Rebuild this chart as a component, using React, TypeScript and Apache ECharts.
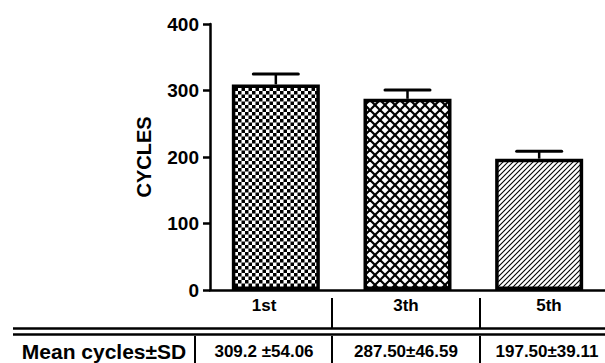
import React, { useEffect, useRef } from "react";
import * as echarts from "echarts";

const categories = ["1st", "3th", "5th"];
const meanCycles = [309.2, 287.5, 197.5];
const errorValues = [15.6, 13.4, 11.3];
const meanSdLabels = ["309.2 ±54.06", "287.50±46.59", "197.50±39.11"];
const rowTitle = "Mean cycles±SD";
const yAxisName = "CYCLES";
const yMin = 0;
const yMax = 400;
const yInterval = 100;

const FONT = "'Liberation Sans', Arial, sans-serif";

function makeTile(size: number, draw: (ctx: CanvasRenderingContext2D) => void) {
  const c = document.createElement("canvas");
  c.width = size;
  c.height = size;
  const ctx = c.getContext("2d")!;
  ctx.fillStyle = "#fff";
  ctx.fillRect(0, 0, size, size);
  draw(ctx);
  return { image: c.toDataURL(), repeat: "repeat", imageWidth: size, imageHeight: size } as any;
}

function patterns() {
  const checker = makeTile(7, (ctx) => {
    ctx.fillStyle = "#000";
    ctx.fillRect(0, 0, 3.5, 3.5);
    ctx.fillRect(3.5, 3.5, 3.5, 3.5);
  });
  const cross = makeTile(10, (ctx) => {
    ctx.strokeStyle = "#000";
    ctx.lineWidth = 2.2;
    for (let k = -1; k <= 1; k++) {
      ctx.beginPath();
      ctx.moveTo(-10, -10 + k * 10);
      ctx.lineTo(20, 20 + k * 10);
      ctx.stroke();
    }
    for (let k = 0; k <= 2; k++) {
      ctx.beginPath();
      ctx.moveTo(-10, 10 + k * 10);
      ctx.lineTo(20, -20 + k * 10);
      ctx.stroke();
    }
  });
  const hatch = makeTile(5, (ctx) => {
    ctx.strokeStyle = "#000";
    ctx.lineWidth = 1.1;
    for (let k = 0; k <= 2; k++) {
      ctx.beginPath();
      ctx.moveTo(-5, 5 + k * 5);
      ctx.lineTo(10, -10 + k * 5);
      ctx.stroke();
    }
  });
  return [checker, cross, hatch];
}

export default function App() {
  const ref = useRef<HTMLDivElement>(null);
  useEffect(() => {
    if (!ref.current) return;
    const chart = echarts.init(ref.current, null, { renderer: "svg" });
    const fills = patterns();

    const headerX = [264, 406, 549];
    const valueX = [264, 406, 547];
    const graphic: any[] = [];
    categories.forEach((c, i) => {
      graphic.push({
        type: "text",
        x: headerX[i],
        y: 305,
        z: 100,
        style: { text: c, font: `bold 17px ${FONT}`, fill: "#000", align: "center", verticalAlign: "middle" },
      });
      graphic.push({
        type: "text",
        x: valueX[i],
        y: 351,
        z: 100,
        style: { text: meanSdLabels[i], font: `bold 17px ${FONT}`, fill: "#000", align: "center", verticalAlign: "middle" },
      });
    });
    graphic.push({
      type: "text",
      x: 104,
      y: 351,
      z: 100,
      style: { text: rowTitle, font: `bold 21px ${FONT}`, fill: "#000", align: "center", verticalAlign: "middle" },
    });
    const lineStyle = { stroke: "#000", lineWidth: 2 };
    [332, 480].forEach((x) => {
      graphic.push({ type: "line", z: 100, shape: { x1: x, y1: 298, x2: x, y2: 328 }, style: lineStyle });
    });
    [195, 332, 480].forEach((x) => {
      graphic.push({ type: "line", z: 100, shape: { x1: x, y1: 336, x2: x, y2: 363 }, style: lineStyle });
    });
    graphic.push({ type: "line", z: 100, shape: { x1: 13, y1: 328.5, x2: 605, y2: 328.5 }, style: { stroke: "#000", lineWidth: 2.5 } });
    graphic.push({ type: "line", z: 100, shape: { x1: 13, y1: 334.5, x2: 605, y2: 334.5 }, style: { stroke: "#000", lineWidth: 2.5 } });

    chart.setOption({
      animation: false,
      backgroundColor: "#fff",
      grid: { left: 210, top: 24, bottom: 73, right: -7, containLabel: false },
      xAxis: {
        type: "category",
        data: categories,
        axisLine: { lineStyle: { color: "#000", width: 2.5 } },
        axisTick: { show: false },
        axisLabel: { show: false },
      },
      yAxis: {
        type: "value",
        min: yMin,
        max: yMax,
        interval: yInterval,
        name: yAxisName,
        nameLocation: "middle",
        nameGap: 56,
        nameRotate: 90,
        nameTextStyle: { color: "#000", fontWeight: "bold", fontSize: 20, fontFamily: FONT },
        axisLine: { show: true, lineStyle: { color: "#000", width: 2.5 } },
        axisTick: { show: true, length: 7, lineStyle: { color: "#000", width: 2.5 } },
        axisLabel: { color: "#000", fontWeight: "bold", fontSize: 19, fontFamily: FONT, margin: 11 },
        splitLine: { show: false },
      },
      series: [
        {
          type: "bar",
          barWidth: 88,
          data: meanCycles.map((v, i) => ({
            value: v,
            itemStyle: { color: fills[i], borderColor: "#000", borderWidth: 3.5 },
          })),
          z: 2,
        },
        {
          type: "custom",
          z: 3,
          data: meanCycles.map((v, i) => [i, v, errorValues[i]]),
          renderItem: (params: any, api: any) => {
            const idx = api.value(0);
            const m = api.value(1);
            const e = api.value(2);
            const base = api.coord([idx, m]);
            const top = api.coord([idx, m + e]);
            return {
              type: "group",
              children: [
                {
                  type: "line",
                  shape: { x1: top[0], y1: base[1], x2: top[0], y2: top[1] },
                  style: { stroke: "#000", lineWidth: 2.5 },
                },
                {
                  type: "line",
                  shape: { x1: top[0] - 22.5, y1: top[1], x2: top[0] + 22.5, y2: top[1] },
                  style: { stroke: "#000", lineWidth: 3, lineCap: "round" },
                },
              ],
            };
          },
        },
      ],
      graphic,
    });
    return () => chart.dispose();
  }, []);
  return (
    <div
      ref={ref}
      style={{ position: "fixed", left: 0, top: 0, width: 605, height: 363, background: "#fff" }}
    />
  );
}
